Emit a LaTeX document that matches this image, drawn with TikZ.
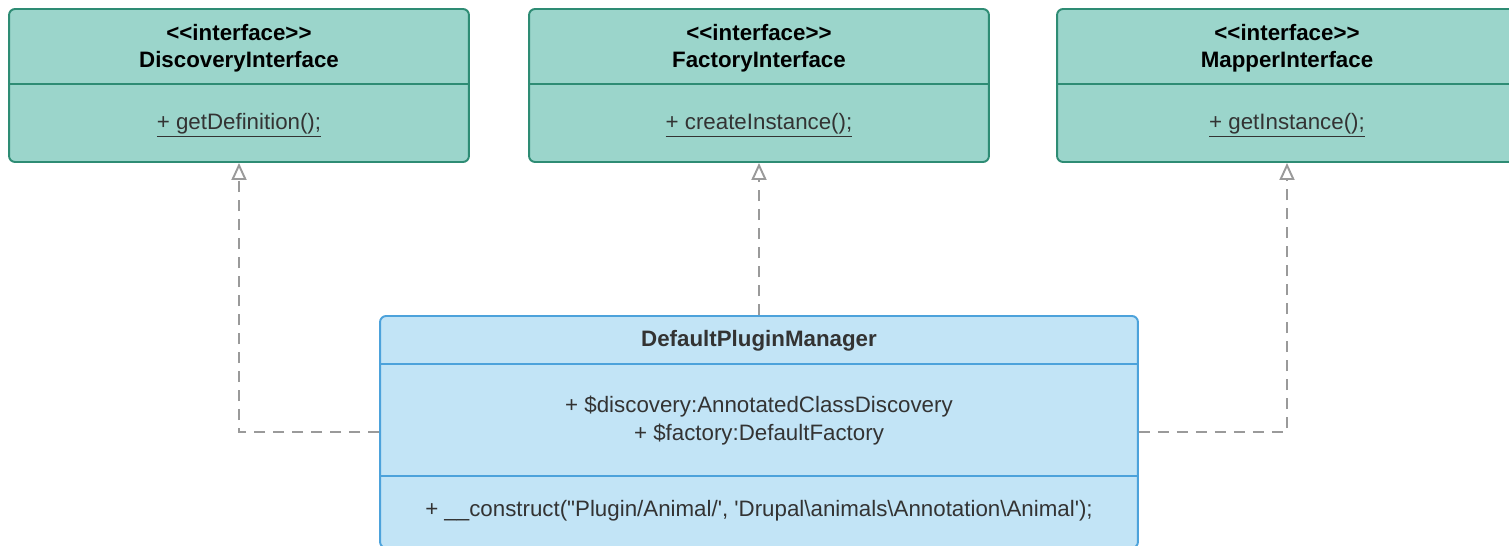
\documentclass[tikz,border=0pt]{standalone}
\usepackage{fontspec}
\newfontfamily\umlfont{Liberation Sans}
\usepackage{tikz}
\usetikzlibrary{arrows.meta}

\definecolor{ifacefill}{HTML}{9BD5CB}
\definecolor{ifaceline}{HTML}{2E8C74}
\definecolor{clsfill}{HTML}{C2E4F6}
\definecolor{clsline}{HTML}{4CA2DB}
\definecolor{membertext}{HTML}{333333}
\definecolor{realizegray}{HTML}{9A9A9A}

\begin{document}
\begin{tikzpicture}
  [
    x=0.02cm, y=-0.02cm,
    >={Triangle[open, length=0.34cm, width=0.3cm]},
    iface/.style   = {draw=ifaceline, fill=ifacefill, line width=1.1pt, rounded corners=0.12cm,
                      inner sep=0pt, minimum width=9.2cm, minimum height=3.06cm},
    cls/.style     = {draw=clsline, fill=clsfill, line width=1.1pt, rounded corners=0.12cm,
                      inner sep=0pt, minimum width=15.16cm, minimum height=4.64cm},
    title/.style   = {font=\umlfont\fontsize{12.7}{15.5}\selectfont\bfseries, align=center, inner sep=0pt},
    member/.style  = {font=\umlfont\fontsize{12.7}{16}\selectfont, text=membertext, align=center, inner sep=0pt},
    realize/.style = {->, draw=realizegray, line width=1.1pt, dash pattern=on 0.22cm off 0.16cm},
  ]

%Page size of the reference picture
\useasboundingbox (0,0) rectangle (1509,546);

%The three interfaces
\foreach \nm/\cx/\ttl/\meth in {disc/239/DiscoveryInterface/getDefinition,
                                fact/759/FactoryInterface/createInstance,
                                mapr/1287/MapperInterface/getInstance}
{
\node[iface] (\nm) at (\cx,85.5) {};
\draw[ifaceline, line width=1.1pt] (\nm.west |- 0,84) -- (\nm.east |- 0,84);
\node[title] (\nm-title) at (\cx,48.5) {<<interface>>\\\ttl};
\node[member] (\nm-op) at (\cx,125) {\underline{+ \meth();}};
}

%The manager class
\node[cls] (mgr) at (759,432) {};
\draw[clsline, line width=1.1pt] (mgr.west |- 0,364) -- (mgr.east |- 0,364);
\draw[clsline, line width=1.1pt] (mgr.west |- 0,476) -- (mgr.east |- 0,476);
\node[title, text=membertext] (mgr-title) at (759,341) {DefaultPluginManager};
\node[member] (mgr-attr) at (759,421) {+ \$discovery:AnnotatedClassDiscovery\\+ \$factory:DefaultFactory};
\node[member] (mgr-op) at (759,511)
  {+ \_\_construct("Plugin/Animal/', 'Drupal\textbackslash animals\textbackslash Annotation\textbackslash Animal');};

%Realizations
\draw[realize] (mgr.west) -| (disc.south);
\draw[realize] (mgr.north) -- (fact.south);
\draw[realize] (mgr.east) -| (mapr.south);
\end{tikzpicture}
\end{document}
